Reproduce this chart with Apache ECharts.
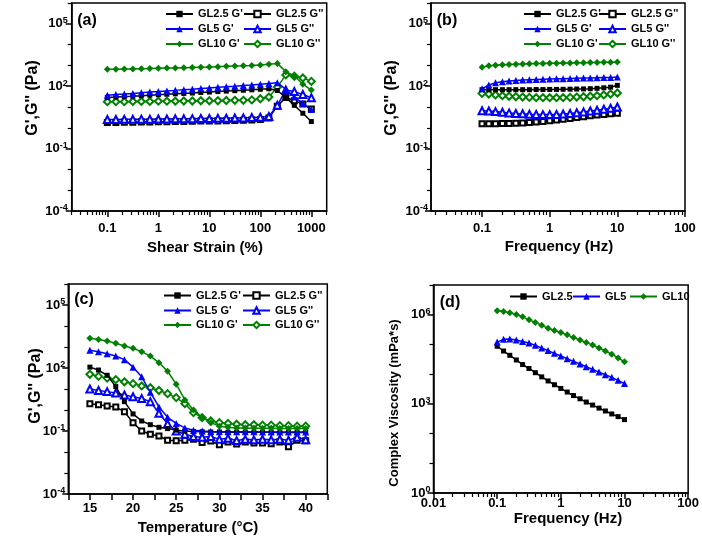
<!DOCTYPE html>
<html><head><meta charset="utf-8">
<script src="https://cdn.jsdelivr.net/npm/echarts@6/dist/echarts.min.js"></script>
<style>html,body{margin:0;padding:0;background:#fff}#c{width:702px;height:542px}</style>
</head><body><div id="c"></div>
<script>
// ---------- DATA ----------
// (a) amplitude sweep
const strainX = [0.1,0.147,0.215,0.316,0.464,0.681,1,1.47,2.15,3.16,4.64,6.81,10,14.7,21.5,31.6,46.4,68.1,100,147,215,316,464,681,1000];
const aGL25Gp  = [29,30,32,33,35,37,39,41,43,45,47,50,52,55,58,61,64,67,71,75,62,29,12,5,2];
const aGL25Gpp = [1.8,1.8,1.85,1.85,1.9,1.9,1.95,1.95,2,2,2.05,2.1,2.1,2.15,2.2,2.25,2.3,2.4,2.5,3.0,11,29,20,14,8];
const aGL5Gp   = [37,40,42,45,48,52,55,59,63,68,72,77,83,89,95,100,108,115,125,135,148,70,30,15,7.5];
const aGL5Gpp  = [2.5,2.5,2.55,2.55,2.6,2.6,2.65,2.65,2.7,2.7,2.75,2.8,2.8,2.85,2.9,2.95,3.0,3.1,3.2,3.5,12,65,55,40,28];
const aGL10Gp  = [650,660,670,680,690,700,720,740,760,780,800,820,840,870,900,930,960,1000,1050,1150,1250,500,310,125,65];
const aGL10Gpp = [18,18,18,18.5,18.5,18.5,19,19,19,19.5,19.5,20,20,20,20.5,21,21,22,25,30,90,350,300,250,170];
// (b) frequency sweep
const bFreq = [0.1,0.126,0.158,0.2,0.251,0.316,0.398,0.501,0.631,0.794,1,1.26,1.58,2,2.51,3.16,3.98,5.01,6.31,7.94,10];
const bGL25Gp  = [68,68,68,68,68,68,68,68,69,69,70,70,71,72,73,74,76,79,84,90,110];
const bGL25Gpp = [1.55,1.55,1.55,1.6,1.6,1.65,1.7,1.8,1.9,2.0,2.2,2.4,2.6,2.8,3.1,3.4,3.8,4.1,4.4,4.7,5.0];
const bGL5Gp   = [75,115,145,165,180,190,200,205,210,215,220,225,230,235,240,245,250,255,260,265,275];
const bGL5Gpp  = [6.6,6.4,6.0,5.6,5.2,4.9,4.7,4.5,4.4,4.3,4.3,4.4,4.6,4.9,5.3,5.8,6.4,7.0,7.8,8.7,10];
const bGL10Gp  = [820,950,1030,1080,1120,1150,1180,1200,1220,1240,1260,1280,1300,1310,1330,1350,1370,1390,1410,1430,1450];
const bGL10Gpp = [45,42,38,35,33,31,30,29,28,28,28,28,28,29,30,31,33,35,38,42,47];
// (c) temperature sweep
const cTemp = [15,16,17,18,19,20,21,22,23,24,25,26,27,28,29,30,31,32,33,34,35,36,37,38,39,40];
const cGL25Gp  = [110,80,45,13,2.5,0.65,0.3,0.2,0.15,0.13,0.11,0.1,0.095,0.092,0.09,0.09,0.088,0.088,0.088,0.087,0.087,0.087,0.086,0.086,0.086,0.086];
const cGL25Gpp = [2.0,1.8,1.55,1.38,0.83,0.25,0.1,0.07,0.058,0.036,0.034,0.036,0.04,0.028,0.033,0.022,0.03,0.024,0.03,0.027,0.027,0.025,0.03,0.018,0.036,0.034];
const cGL5Gp   = [700,600,480,370,250,110,38,7,1.4,0.45,0.23,0.14,0.11,0.1,0.095,0.093,0.092,0.092,0.091,0.091,0.09,0.09,0.09,0.09,0.09,0.09];
const cGL5Gpp  = [10,8.5,7.5,6.5,5.2,4.3,3.5,2.5,0.7,0.22,0.1,0.07,0.055,0.05,0.055,0.04,0.045,0.035,0.04,0.038,0.04,0.038,0.04,0.036,0.05,0.038];
const cGL10Gp  = [2600,2300,1950,1500,1120,870,600,370,180,70,17,3,1.0,0.45,0.25,0.17,0.15,0.14,0.14,0.135,0.135,0.135,0.13,0.13,0.13,0.13];
const cGL10Gpp = [50,40,33,28,22,18,14,11.5,8.5,6,3.9,2.0,0.75,0.43,0.3,0.25,0.23,0.21,0.2,0.2,0.19,0.19,0.18,0.18,0.17,0.17];
// (d) complex viscosity
const dFreq = [0.1,0.126,0.158,0.2,0.251,0.316,0.398,0.501,0.631,0.794,1,1.26,1.58,2,2.51,3.16,3.98,5.01,6.31,7.94,10];
const dGL25 = [87000,60000,43000,30000,21000,15500,11200,8100,5900,4400,3300,2500,1900,1480,1150,910,720,575,457,372,295];
const dGL5  = [120000,148000,151000,141000,126000,112000,93000,76000,62000,50000,41000,33000,27000,22000,17800,14500,11700,9500,7800,6200,4800];
const dGL10 = [1350000,1290000,1170000,1020000,850000,680000,550000,440000,350000,295000,250000,210000,170000,141000,117000,95000,76000,60000,47000,35000,26000];
// tick labels
const aXTicks = [0.1,1,10,100,1000];
const bXTicks = [0.1,1,10,100];
const cXTicks = [15,20,25,30,35,40];
const dXTicks = [0.01,0.1,1,10,100];
const gYTicks = [1e-4,1e-1,1e2,1e5];
const dYTicks = [1,1e3,1e6];

// ---------- STYLE / HELPERS ----------
const FONT = '"Liberation Sans", Arial, Helvetica, sans-serif';
const K = '#000000', B = '#0000ff', G = '#008000';

function minorLog(e0, e1) {
  const out = [];
  for (let e = e0; e < e1; e++) for (let m = 2; m <= 9; m++) out.push(+(m * Math.pow(10, e)).toPrecision(6));
  return out;
}
function decadesExcept(e0, e1, skip) {
  const out = [];
  for (let e = e0; e <= e1; e++) { const v = Math.pow(10, e); if (!skip.some(s => Math.abs(Math.log10(s) - e) < 1e-9)) out.push(v); }
  return out;
}
const supRich = {
  b: {fontSize: 13, fontWeight: 'bold', fontFamily: FONT, color: K, lineHeight: 15},
  s: {fontSize: 9, fontWeight: 'bold', fontFamily: FONT, color: K, lineHeight: 9, verticalAlign: 'top'}
};
const supFmt = v => '{b|10}{s|' + Math.round(Math.log10(v)) + '}';
const numFmt = v => String(+(+v).toPrecision(6));
const lblStyle = {fontSize: 13, fontWeight: 'bold', fontFamily: FONT, color: K};
const axLine = {show: true, lineStyle: {color: K, width: 1.5}};
const majTick = {color: K, width: 1.5};
const minTick = {color: K, width: 1.2};

function mainLogX(grid, min, max, labels, margin) {
  return {type: 'log', gridIndex: grid, min, max, position: 'bottom',
    axisLine: axLine, splitLine: {show: false},
    axisTick: {show: true, inside: false, length: 6, customValues: labels, lineStyle: majTick},
    axisLabel: Object.assign({customValues: labels, margin, formatter: numFmt}, lblStyle)};
}
function minorLogX(grid, min, max, vals) {
  return {type: 'log', gridIndex: grid, min, max, position: 'bottom',
    axisLine: {show: false}, splitLine: {show: false}, axisLabel: {show: false},
    axisTick: {show: true, inside: false, length: 4, customValues: vals, lineStyle: minTick}};
}
function mainLogY(grid, min, max, labels, margin) {
  return {type: 'log', gridIndex: grid, min, max, interval: 1, position: 'left',
    axisLine: axLine, splitLine: {show: false},
    axisTick: {show: true, inside: false, length: 6, customValues: labels, lineStyle: majTick},
    axisLabel: {customValues: labels, margin, formatter: supFmt, rich: supRich}};
}
function minorLogY(grid, min, max, vals) {
  return {type: 'log', gridIndex: grid, min, max, interval: 1, position: 'left',
    axisLine: {show: false}, splitLine: {show: false}, axisLabel: {show: false},
    axisTick: {show: true, inside: false, length: 4, customValues: vals, lineStyle: minTick}};
}
function mk(name, xs, ys, color, symbol, xi, yi, size) {
  const empty = symbol.indexOf('empty') === 0;
  return {type: 'line', name, xAxisIndex: xi, yAxisIndex: yi,
    data: xs.map((x, i) => [x, ys[i]]), symbol, symbolSize: size || 6, showSymbol: true,
    lineStyle: {color, width: 1.5}, itemStyle: {color, borderColor: color, borderWidth: empty ? 1 : 0},
    emphasis: {disabled: true}, animation: false, z: empty ? 3 : 4};
}
function leg(name, left, rowCenter) {
  return {data: [name], left, top: rowCenter - 4, itemWidth: 27, itemHeight: 8, itemGap: 0, padding: 0,
    selectedMode: false, textStyle: {fontSize: 11, fontWeight: 'bold', fontFamily: FONT, color: K}};
}
function txt(text, x, y, size, rot) {
  return {type: 'text', x, y, rotation: rot ? Math.PI / 2 : 0,
    style: {text, fill: K, font: 'bold ' + size + 'px ' + FONT, textAlign: 'center', textVerticalAlign: 'middle'}};
}

const gridStyle = {show: true, borderColor: K, borderWidth: 1.5, containLabel: false};

const option = {
  animation: false,
  backgroundColor: '#fff',
  grid: [
    Object.assign({left: 71.7, top: 3, width: 255, height: 208}, gridStyle),
    Object.assign({left: 431, top: 3, width: 254, height: 208}, gridStyle),
    Object.assign({left: 68.3, top: 284, width: 259, height: 210}, gridStyle),
    Object.assign({left: 433.5, top: 285, width: 256.5, height: 208}, gridStyle)
  ],
  xAxis: [
    mainLogX(0, 0.02, 2000, aXTicks, 11),
    minorLogX(0, 0.02, 2000, minorLog(-2, 4)),
    mainLogX(1, 0.0176, 100, bXTicks, 11),
    minorLogX(1, 0.0176, 100, minorLog(-2, 2)),
    {type: 'value', gridIndex: 2, min: 12.5, max: 42.5, interval: 2.5, position: 'bottom',
      axisLine: axLine, splitLine: {show: false},
      axisTick: {show: true, inside: false, length: 6, lineStyle: majTick},
      axisLabel: Object.assign({customValues: cXTicks, margin: 8}, lblStyle)},
    mainLogX(3, 0.01, 100, dXTicks, 4),
    minorLogX(3, 0.01, 100, minorLog(-2, 2))
  ],
  yAxis: [
    mainLogY(0, 1e-4, 1e6, gYTicks, 4),
    minorLogY(0, 1e-4, 1e6, decadesExcept(-4, 6, gYTicks)),
    mainLogY(1, 1e-4, 1e6, gYTicks, 3),
    minorLogY(1, 1e-4, 1e6, decadesExcept(-4, 6, gYTicks)),
    mainLogY(2, 1e-4, 1e6, gYTicks, 3),
    minorLogY(2, 1e-4, 1e6, decadesExcept(-4, 6, gYTicks)),
    mainLogY(3, 1, 1e7, dYTicks, 3),
    minorLogY(3, 1, 1e7, decadesExcept(0, 7, dYTicks))
  ],
  legend: [
    leg("GL2.5 G'", 165, 12.5), leg("GL2.5 G''", 243, 12.5),
    leg("GL5 G'", 165, 27.5), leg("GL5 G''", 243, 27.5),
    leg("GL10 G'", 165, 42.5), leg("GL10 G''", 243, 42.5),
    leg("GL2.5 G'", 523, 12.5), leg("GL2.5 G''", 598, 12.5),
    leg("GL5 G'", 523, 27.5), leg("GL5 G''", 598, 27.5),
    leg("GL10 G'", 523, 42.5), leg("GL10 G''", 598, 42.5),
    leg("GL2.5 G'", 163, 294), leg("GL2.5 G''", 242, 294),
    leg("GL5 G'", 163, 309), leg("GL5 G''", 242, 309),
    leg("GL10 G'", 163, 323.5), leg("GL10 G''", 242, 323.5),
    leg('GL2.5', 509, 295), leg('GL5', 572, 295), leg('GL10', 629, 295)
  ],
  series: [
    // (a): G' on main axes, G'' on the overlay axes (identical scales)
    mk("GL2.5 G'", strainX, aGL25Gp, K, 'rect', 0, 0, 5),
    mk("GL2.5 G''", strainX, aGL25Gpp, K, 'emptyRect', 1, 1, 5),
    mk("GL5 G'", strainX, aGL5Gp, B, 'triangle', 0, 0, 7),
    mk("GL5 G''", strainX, aGL5Gpp, B, 'emptyTriangle', 1, 1, 7),
    mk("GL10 G'", strainX, aGL10Gp, G, 'diamond', 0, 0, 7),
    mk("GL10 G''", strainX, aGL10Gpp, G, 'emptyDiamond', 1, 1, 7),
    // (b)
    mk("GL2.5 G'", bFreq, bGL25Gp, K, 'rect', 2, 2, 5),
    mk("GL2.5 G''", bFreq, bGL25Gpp, K, 'emptyRect', 3, 3, 5),
    mk("GL5 G'", bFreq, bGL5Gp, B, 'triangle', 2, 2, 7),
    mk("GL5 G''", bFreq, bGL5Gpp, B, 'emptyTriangle', 3, 3, 7),
    mk("GL10 G'", bFreq, bGL10Gp, G, 'diamond', 2, 2, 7),
    mk("GL10 G''", bFreq, bGL10Gpp, G, 'emptyDiamond', 3, 3, 7),
    // (c)
    mk("GL2.5 G'", cTemp, cGL25Gp, K, 'rect', 4, 4, 5),
    mk("GL2.5 G''", cTemp, cGL25Gpp, K, 'emptyRect', 4, 5, 5),
    mk("GL5 G'", cTemp, cGL5Gp, B, 'triangle', 4, 4, 7),
    mk("GL5 G''", cTemp, cGL5Gpp, B, 'emptyTriangle', 4, 5, 7),
    mk("GL10 G'", cTemp, cGL10Gp, G, 'diamond', 4, 4, 7),
    mk("GL10 G''", cTemp, cGL10Gpp, G, 'emptyDiamond', 4, 5, 7),
    // (d)
    mk('GL2.5', dFreq, dGL25, K, 'rect', 5, 6, 5),
    mk('GL5', dFreq, dGL5, B, 'triangle', 6, 7, 7),
    mk('GL10', dFreq, dGL10, G, 'diamond', 5, 6, 7)
  ],
  graphic: [
    txt('(a)', 87, 21, 16),
    txt('(b)', 447, 21, 16),
    txt('(c)', 84, 300, 16),
    txt('(d)', 450, 303, 16),
    txt('Shear Strain (%)', 205, 248, 15),
    txt('Frequency (Hz)', 559, 247, 15),
    txt('Temperature (°C)', 198, 528, 15),
    txt('Frequency (Hz)', 568, 519, 15),
    txt("G',G'' (Pa)", 33, 98, 16, true),
    txt("G',G'' (Pa)", 392, 98, 16, true),
    txt("G',G'' (Pa)", 36, 386, 16, true),
    txt('Complex Viscosity (mPa*s)', 394, 403, 13, true)
  ]
};
const chart = echarts.init(document.getElementById('c'), null, {renderer: 'canvas'});
chart.setOption(option);
</script>
</body></html>
